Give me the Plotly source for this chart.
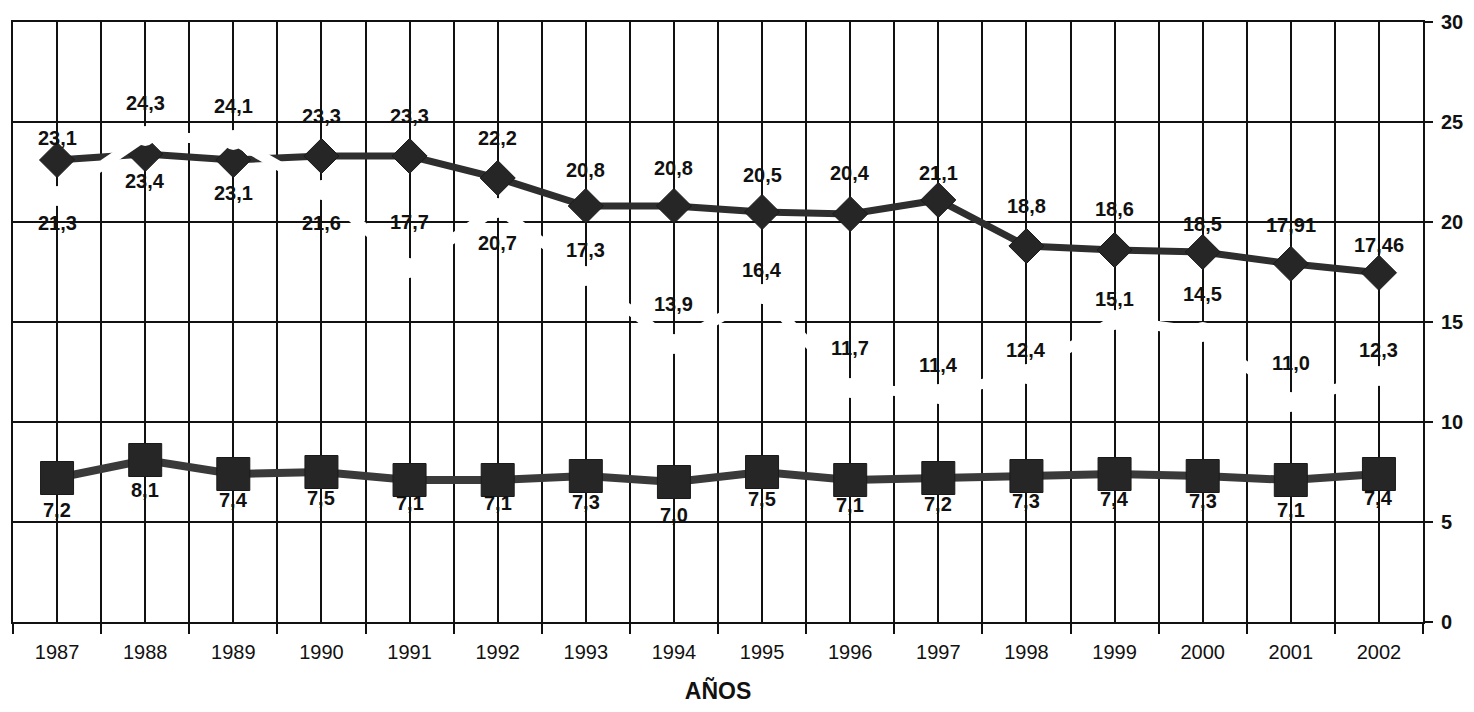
import plotly.graph_objects as go

# ---- data ----
years = [1987, 1988, 1989, 1990, 1991, 1992, 1993, 1994,
         1995, 1996, 1997, 1998, 1999, 2000, 2001, 2002]
serie_rombo = [23.1, 23.4, 23.1, 23.3, 23.3, 22.2, 20.8, 20.8,
               20.5, 20.4, 21.1, 18.8, 18.6, 18.5, 17.91, 17.46]
serie_cuadro = [7.2, 8.1, 7.4, 7.5, 7.1, 7.1, 7.3, 7.0,
                7.5, 7.1, 7.2, 7.3, 7.4, 7.3, 7.1, 7.4]
serie_oculta = [21.3, 24.3, 24.1, 21.6, 17.7, 20.7, 17.3, 13.9,
                16.4, 11.7, 11.4, 12.4, 15.1, 14.5, 11.0, 12.3]
y_ticks = [0, 5, 10, 15, 20, 25, 30]

# ---- label offsets (style, px) ----
shift_rombo = [22, -27, -33, 40, 40, 40, 36, 38, 37, 41, 27, 40, 41, 28, 39, 28]
shift_cuadro = [-32, -30, -26, -26, -23, -23, -26, -33, -27, -25, -26, -25, -25, -25, -30, -24]
shift_oculta = [-27, 33, 34, -33, 46, -35, 26, 40, 24, 40, 29, 24, 21, 38, 39, 26]

FONT = "Liberation Sans, Arial, sans-serif"
INK = "#111111"


def fmt(v):
    return str(v).replace(".", ",")


fig = go.Figure()

fig.add_trace(go.Scatter(
    x=years, y=serie_cuadro, mode="lines+markers",
    line=dict(color="#3a3a3a", width=8),
    marker=dict(symbol="square", size=33, color="#262626",
                line=dict(color="#1a1a1a", width=1)),
    hoverinfo="skip", showlegend=False))

fig.add_trace(go.Scatter(
    x=years, y=serie_rombo, mode="lines+markers",
    line=dict(color="#2e2e2e", width=7),
    marker=dict(symbol="diamond", size=27, color="#262626",
                line=dict(color="#1a1a1a", width=1)),
    hoverinfo="skip", showlegend=False))

# erased (white) series drawn on top
fig.add_trace(go.Scatter(
    x=years, y=serie_oculta, mode="lines+markers",
    line=dict(color="white", width=10),
    marker=dict(symbol="circle", size=20, color="white"),
    hoverinfo="skip", showlegend=False))

label_font = dict(family=FONT, size=20, color=INK, weight="bold")
for serie, shifts in ((serie_rombo, shift_rombo),
                      (serie_cuadro, shift_cuadro),
                      (serie_oculta, shift_oculta)):
    for x, v, s in zip(years, serie, shifts):
        fig.add_annotation(x=x, y=v, text=fmt(v), showarrow=False,
                           yshift=s, yanchor="middle", xanchor="center",
                           font=label_font)

fig.update_xaxes(
    range=[years[0] - 0.5, years[-1] + 0.5],
    tickmode="linear", tick0=years[0], dtick=1,
    ticks="", ticklabelstandoff=11,
    tickfont=dict(family=FONT, size=20, color=INK),
    showgrid=True, gridcolor=INK, gridwidth=1.5,
    showline=True, linecolor=INK, linewidth=2, mirror=True,
    zeroline=False,
    minor=dict(tickmode="linear", tick0=years[0] - 0.5, dtick=1,
               ticks="outside", ticklen=10, tickcolor=INK, tickwidth=1.5,
               showgrid=True, gridcolor=INK, gridwidth=1.5),
    title=dict(text="<b>AÑOS</b>", standoff=22,
               font=dict(family=FONT, size=23, color=INK)),
)

fig.update_yaxes(
    range=[y_ticks[0], y_ticks[-1]], side="right",
    tickmode="array", tickvals=y_ticks,
    ticks="outside", ticklen=8, tickcolor=INK, tickwidth=1.5,
    ticklabelstandoff=4,
    tickfont=dict(family=FONT, size=20, color=INK, weight="bold"),
    showgrid=True, gridcolor=INK, gridwidth=1.8,
    showline=True, linecolor=INK, linewidth=2, mirror=True,
    zeroline=False,
)

fig.update_layout(
    width=1458, height=696,
    margin=dict(l=3, r=41, t=13, b=80),
    paper_bgcolor="white", plot_bgcolor="white",
    showlegend=False,
    font=dict(family=FONT, color=INK),
)

fig.write_html("out.html")
